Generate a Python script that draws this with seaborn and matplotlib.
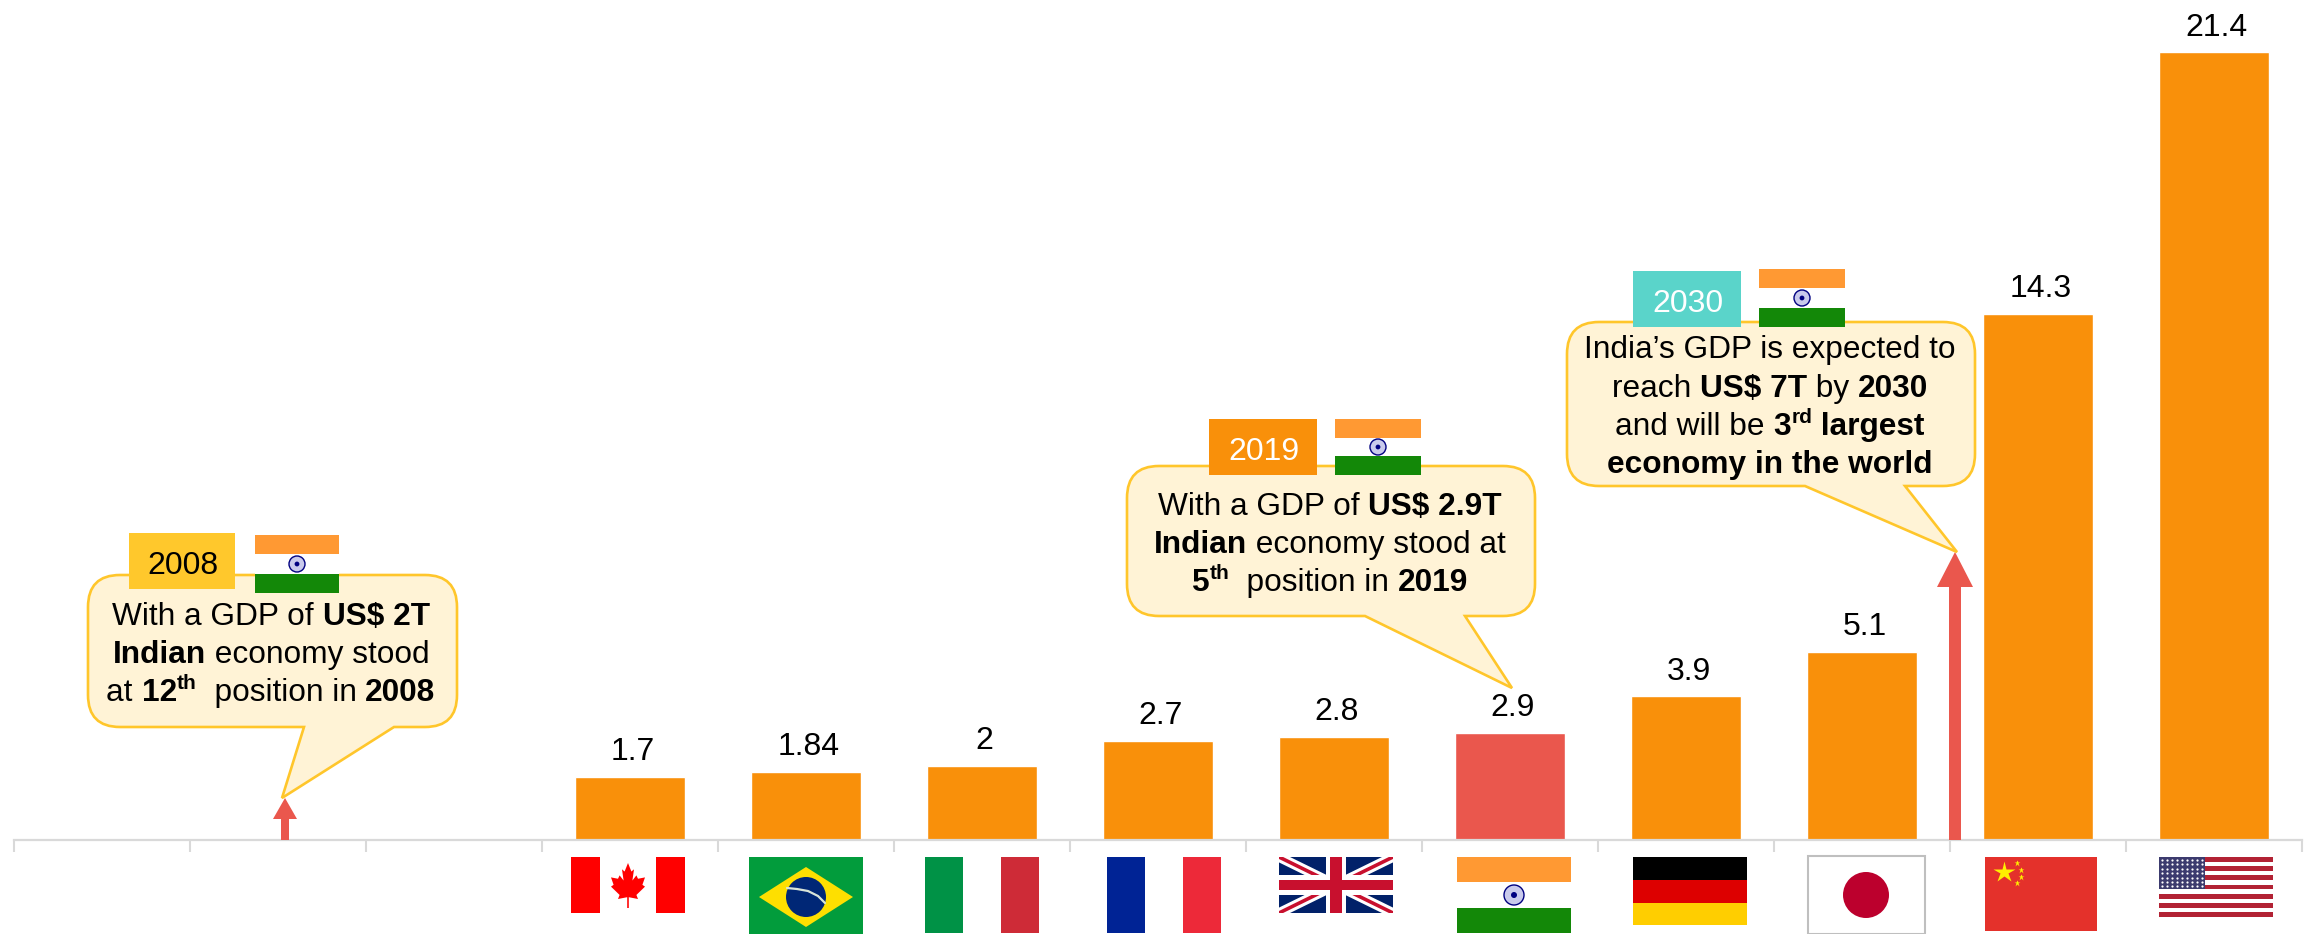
import numpy as np
import pandas as pd
import matplotlib
matplotlib.use("Agg")
import matplotlib.pyplot as plt
from matplotlib.patches import Rectangle, Polygon, Ellipse, PathPatch
from matplotlib.path import Path
import seaborn as sns

# data, first three slots are empty in the chart
slots = ["s1", "s2", "s3", "Canada", "Brazil", "Italy", "France", "UK",
         "India", "Germany", "Japan", "China", "USA"]
gdp = [np.nan, np.nan, np.nan, 1.7, 1.84, 2.0, 2.7, 2.8, 2.9, 3.9, 5.1, 14.3, 21.4]
gdp_labels = ["", "", "", "1.7", "1.84", "2", "2.7", "2.8", "2.9", "3.9", "5.1", "14.3", "21.4"]
highlight = "India"

ORANGE = "#F9900A"
RED = "#EA574D"
EDGE = "#FFC62B"
FILL = "#FFF3D6"
GREY = "#D9D9D9"

W, H = 2313, 934
sns.set_theme(style="white")
plt.rcParams["font.family"] = ["Liberation Sans", "DejaVu Sans"]

fig = plt.figure(figsize=(W / 100, H / 100), dpi=100)
ax = fig.add_axes([13.8 / W, (H - 840) / H, (2302 - 13.8) / W, 840 / H])

df = pd.DataFrame({"slot": slots, "gdp": gdp})
palette = {s: (RED if s == highlight else ORANGE) for s in slots}
sns.barplot(data=df, x="slot", y="gdp", hue="slot", order=slots, hue_order=slots,
            palette=palette, width=0.625, saturation=1, legend=False, ax=ax)
ax.set_xlim(-0.5, 12.5)
ax.set_ylim(0, 840 / 36.8)
ax.set_xlabel("")
ax.set_ylabel("")
ax.set_yticks([])
ax.set_xticks(np.arange(-0.5, 13))
ax.set_xticklabels([])
ax.tick_params(axis="x", bottom=True, length=8.6, width=1.5, color=GREY)
sns.despine(ax=ax, left=True)
ax.spines["bottom"].set_color(GREY)
ax.spines["bottom"].set_linewidth(1.6)
ax.patch.set_alpha(0)

# value labels
for i, (v, lab) in enumerate(zip(gdp, gdp_labels)):
    if lab:
        ax.annotate(lab, (i, v), xytext=(2, 12.2), textcoords="offset points",
                    ha="center", va="baseline", fontsize=23, color="black")

# overlay in pixels of the picture for callouts and flags
ov = fig.add_axes([0, 0, 1, 1], zorder=5)
ov.set_xlim(0, W)
ov.set_ylim(H, 0)
ov.axis("off")
renderer = fig.canvas.get_renderer()


def text_w(s, size, bold):
    prop = matplotlib.font_manager.FontProperties(family="Liberation Sans", size=size,
                                                  weight="bold" if bold else "normal")
    a = renderer.get_text_width_height_descent("x" + s + "x", prop, False)[0]
    b = renderer.get_text_width_height_descent("xx", prop, False)[0]
    return a - b


def runs_line(cx, base, runs, size=22.8):
    # runs: (text, style) style r / b / s (bold superscript)
    widths = []
    for s, st in runs:
        widths.append(text_w(s, size * 0.66 if st == "s" else size, st != "r"))
    x = cx - sum(widths) / 2
    for (s, st), w in zip(runs, widths):
        sz = size * 0.66 if st == "s" else size
        y = base - 12 if st == "s" else base
        ov.text(x, y, s, fontsize=sz, fontweight="normal" if st == "r" else "bold",
                ha="left", va="baseline", color="black", zorder=8)
        x += w


def callout(x0, y0, x1, y1, t0, t1, tipx, tipy, r=32):
    verts = [(x0 + r, y0), (x1 - r, y0), (x1, y0), (x1, y0 + r), (x1, y1 - r), (x1, y1),
             (x1 - r, y1), (t1, y1), (tipx, tipy), (t0, y1), (x0 + r, y1), (x0, y1),
             (x0, y1 - r), (x0, y0 + r), (x0, y0), (x0 + r, y0), (x0 + r, y0)]
    L, C = Path.LINETO, Path.CURVE3
    codes = [Path.MOVETO, L, C, C, L, C, C, L, L, L, L, C, C, L, C, C, Path.CLOSEPOLY]
    ov.add_patch(PathPatch(Path(verts, codes), fc=FILL, ec=EDGE, lw=1.9, zorder=3,
                           joinstyle="miter"))


def year_box(x0, y0, x1, y1, year, fc, tc):
    ov.add_patch(Rectangle((x0, y0), x1 - x0, y1 - y0, fc=fc, ec="none", zorder=4))
    ov.text((x0 + x1) / 2 + 1, y0 + 41, year, fontsize=23, color=tc, ha="center",
            va="baseline", zorder=5)


def up_arrow(cx, tip, neck, shaft, head):
    ov.add_patch(Polygon([(cx - shaft / 2, 840), (cx - shaft / 2, neck), (cx - head / 2, neck),
                          (cx, tip), (cx + head / 2, neck), (cx + shaft / 2, neck),
                          (cx + shaft / 2, 840)], fc=RED, ec="none", zorder=2))


def rect(x0, y0, x1, y1, c, z=4):
    p = Rectangle((x0, y0), x1 - x0, y1 - y0, fc=c, ec="none", zorder=z)
    ov.add_patch(p)
    return p


def flag_india(x0, y0, x1, y1, r):
    h = (y1 - y0) / 3
    rect(x0, y0, x1, y0 + h, "#FF9933")
    rect(x0, y0 + h, x1, y0 + 2 * h, "white")
    rect(x0, y0 + 2 * h, x1, y1, "#138808")
    c = ((x0 + x1) / 2, (y0 + y1) / 2)
    ov.add_patch(Ellipse(c, 2 * r, 2 * r, fc="#C9CAEC", ec="#000080", lw=1, zorder=5))
    ov.add_patch(Ellipse(c, r * 0.6, r * 0.6, fc="#000080", ec="none", zorder=6))


def flag_stripes_v(x0, y0, x1, y1, cols):
    w = (x1 - x0) / 3
    for i, c in enumerate(cols):
        rect(x0 + i * w, y0, x0 + (i + 1) * w, y1, c)


# callouts
up_arrow(285, 798, 819, 8, 24)
callout(88, 575, 457, 727, 304, 394, 282, 798)
runs_line(271, 625, [("With a GDP of ", "r"), ("US$ 2T", "b")])
runs_line(271, 663, [("Indian", "b"), (" economy stood", "r")])
runs_line(271, 701, [("at ", "r"), ("12", "b"), ("th", "s"), ("  position in ", "r"), ("2008", "b")])
year_box(129, 533, 235, 589, "2008", "#FFC82C", "black")
flag_india(255, 535, 339, 593, 8)

callout(1127, 466, 1535, 616, 1365, 1465, 1512, 688)
runs_line(1330, 515, [("With a GDP of ", "r"), ("US$ 2.9T", "b")])
runs_line(1330, 553, [("Indian", "b"), (" economy stood at", "r")])
runs_line(1330, 591, [("5", "b"), ("th", "s"), ("  position in ", "r"), ("2019", "b")])
year_box(1209, 419, 1317, 475, "2019", ORANGE, "white")
flag_india(1335, 419, 1421, 475, 8)

up_arrow(1955, 552, 587, 12, 36)
callout(1567, 322, 1975, 486, 1805, 1905, 1957, 552)
runs_line(1770, 358, [("India\u2019s GDP is expected to", "r")])
runs_line(1770, 397, [("reach ", "r"), ("US$ 7T", "b"), (" by ", "r"), ("2030", "b")])
runs_line(1770, 435, [("and will be ", "r"), ("3", "b"), ("rd", "s"), (" largest", "b")])
runs_line(1770, 473, [("economy in the world", "b")])
year_box(1633, 271, 1741, 327, "2030", "#5AD4CA", "white")
flag_india(1759, 269, 1845, 327, 8)

# country flags under the axis
# Canada
rect(571, 857, 685, 913, "white")
rect(571, 857, 600, 913, "#FF0000")
rect(656, 857, 685, 913, "#FF0000")
leaf = [(0, 1), (0.17, 0.62), (0.30, 0.72), (0.22, 0.22), (0.42, 0.45), (0.50, 0.30),
        (0.85, 0.36), (0.72, 0.03), (0.85, -0.05), (0.42, -0.42), (0.5, -0.6),
        (0.04, -0.52), (0.04, -1)]
leaf = leaf + [(-a, b) for a, b in leaf[::-1]]
ov.add_patch(Polygon([(628 + 20 * a, 885.5 - 22.5 * b) for a, b in leaf],
                     fc="#FF0000", ec="none", zorder=5))

# Brazil
rect(749, 857, 863, 934, "#029C3C")
ov.add_patch(Polygon([(759, 897), (806, 867), (853, 897), (806, 927)], fc="#FEDF00",
                     ec="none", zorder=5))
ov.add_patch(Ellipse((806, 897), 40, 40, fc="#002776", ec="none", zorder=6))
bx = np.array([787, 797, 808, 818, 825])
by = np.array([888, 889, 891, 896, 903])
ov.plot(bx, by, color="#D8E4D8", lw=1.6, zorder=7)

# Italy, France
flag_stripes_v(925, 857, 1039, 933, ["#009246", "white", "#CE2B37"])
flag_stripes_v(1107, 857, 1221, 933, ["#002395", "white", "#ED2939"])

# UK
clip = rect(1279, 857, 1393, 913, "#012169")
for xs, ys in [((1279, 1393), (857, 913)), ((1279, 1393), (913, 857))]:
    ln = ov.plot(xs, ys, color="white", lw=7, zorder=5, solid_capstyle="butt")[0]
    ln.set_clip_path(clip)
    ln = ov.plot(xs, ys, color="#C8102E", lw=2.6, zorder=5, solid_capstyle="butt")[0]
    ln.set_clip_path(clip)
rect(1326, 857, 1346, 913, "white", 6)
rect(1279, 875, 1393, 895, "white", 6)
rect(1330, 857, 1342, 913, "#C8102E", 7)
rect(1279, 880, 1393, 890, "#C8102E", 7)

# India, Germany
flag_india(1457, 857, 1571, 933, 10)
rect(1633, 857, 1747, 880, "black")
rect(1633, 880, 1747, 903, "#DD0000")
rect(1633, 903, 1747, 925, "#FFCE00")

# Japan
ov.add_patch(Rectangle((1808, 856), 117, 78, fc="white", ec="#BFBFBF", lw=1.5, zorder=4))
ov.add_patch(Ellipse((1866, 895), 46, 46, fc="#BC002D", ec="none", zorder=5))

# China
rect(1985, 857, 2097, 931, "#E4312B")
ov.plot([2004], [872], marker="*", ms=16, color="#FFF000", mec="none", zorder=5)
ov.plot([2017, 2021, 2021, 2017], [863, 870, 877, 883], ls="none", marker="*", ms=5,
        color="#FFF000", mec="none", zorder=5)

# USA
rect(2159, 857, 2273, 917, "white")
sh = 60 / 13
for i in range(0, 13, 2):
    rect(2159, 857 + i * sh, 2273, 857 + (i + 1) * sh, "#B22234", 5)
rect(2159, 857, 2205, 889, "#3C3B6E", 6)
sx = [2162 + 5 * i for i in range(9)]
sy = [860 + 4.4 * j for j in range(7)]
gx, gy = np.meshgrid(sx, sy)
ov.plot(gx.ravel(), gy.ravel(), ls="none", marker="o", ms=1.6, color="white", mec="none", zorder=7)

fig.savefig("out.png", dpi=100)
